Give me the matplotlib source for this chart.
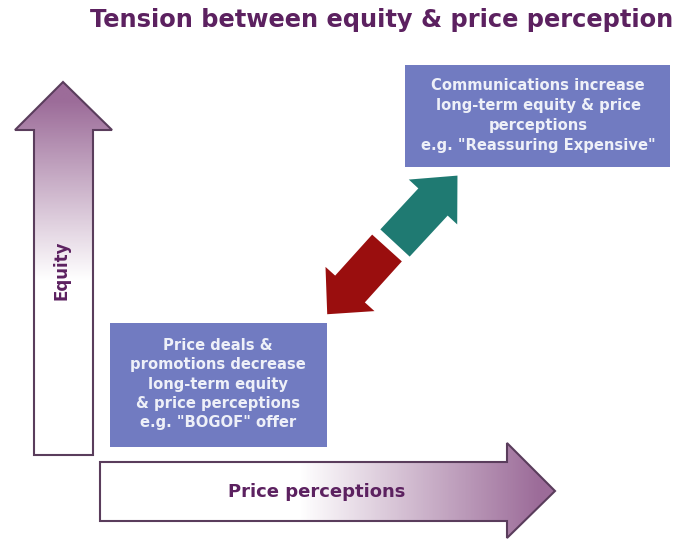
import numpy as np
import matplotlib
matplotlib.use("Agg")
import matplotlib.pyplot as plt
from matplotlib.patches import Polygon, Rectangle, FancyArrow
from matplotlib.colors import LinearSegmentedColormap

# ---- content ----
title = "Tension between equity & price perception"
y_label = "Equity"
x_label = "Price perceptions"
top_box_lines = ["Communications increase", "long-term equity & price",
                 "perceptions", "e.g. \"Reassuring Expensive\""]
bottom_box_lines = ["Price deals &", "promotions decrease", "long-term equity",
                    "& price perceptions", "e.g. \"BOGOF\" offer"]

# ---- colours ----
purple_text = "#5c2160"
outline = "#5a3d5c"
arrow_purple = "#9c6c99"
box_color = "#717bc1"
box_text = "#eef0f8"
teal = "#1f7a72"
red = "#9a0e0e"

W, H = 681, 539
fig = plt.figure(figsize=(W / 100, H / 100), dpi=100)
ax = fig.add_axes([0, 0, 1, 1])
ax.set_xlim(0, W)
ax.set_ylim(H, 0)
ax.axis("off")

font = ["DejaVu Sans"]

# title
ax.text(382, 20, title, ha="center", va="center", fontsize=17.4,
        color=purple_text, family=font, fontweight="bold")

cmap = LinearSegmentedColormap.from_list("g", ["white", arrow_purple])

# vertical arrow (Equity)
vpts = [(34, 455), (34, 130), (15, 130), (63, 82), (112, 130), (93, 130), (93, 455)]
vpoly = Polygon(vpts, closed=True, facecolor="none", edgecolor=outline, lw=1.5, zorder=3)
ax.add_patch(vpoly)
grad_v = np.clip((280 - np.linspace(82, 455, 300)) / (280 - 100), 0, 1)
img = ax.imshow(grad_v[:, None], cmap=cmap, vmin=0, vmax=1, extent=(15, 112, 455, 82),
                aspect="auto", zorder=2)
img.set_clip_path(Polygon(vpts, closed=True, transform=ax.transData))
ax.text(61, 270, y_label, rotation=90, ha="center", va="center", fontsize=12,
        fontweight="bold", color=purple_text, family=font, zorder=4)

# horizontal arrow (Price perceptions)
hpts = [(100, 462), (507, 462), (507, 443), (555, 491), (507, 538), (507, 521), (100, 521)]
hpoly = Polygon(hpts, closed=True, facecolor="none", edgecolor=outline, lw=1.5, zorder=3)
ax.add_patch(hpoly)
xs = np.linspace(100, 555, 400)
grad_h = np.clip((xs - 300) / (540 - 300), 0, 1)
img2 = ax.imshow(grad_h[None, :], cmap=cmap, vmin=0, vmax=1, extent=(100, 555, 538, 443),
                 aspect="auto", zorder=2)
img2.set_clip_path(Polygon(hpts, closed=True, transform=ax.transData))
ax.text(317, 492, x_label, ha="center", va="center", fontsize=13,
        fontweight="bold", color=purple_text, family=font, zorder=4)

# boxes
ax.add_patch(Rectangle((405, 65), 265, 102, facecolor=box_color, edgecolor="none", zorder=2))
for i, line in enumerate(top_box_lines):
    ax.text(538, 86 + i * 19.7, line, ha="center", va="center", fontsize=10.6,
            fontweight="bold", color=box_text, family=font, zorder=4)

ax.add_patch(Rectangle((110, 323), 217, 124, facecolor=box_color, edgecolor="none", zorder=2))
for i, line in enumerate(bottom_box_lines):
    ax.text(218, 345 + i * 19.5, line, ha="center", va="center", fontsize=10.6,
            fontweight="bold", color=box_text, family=font, zorder=4)

# diagonal arrows
ax.add_patch(FancyArrow(395, 243, 38, -41, width=40, head_width=66, head_length=36,
                        length_includes_head=False, color=teal, lw=0, zorder=3))
ax.add_patch(FancyArrow(387, 248, -37, 41, width=40, head_width=66, head_length=34,
                        length_includes_head=False, color=red, lw=0, zorder=3))

fig.savefig("out.png", dpi=100, facecolor="white")
